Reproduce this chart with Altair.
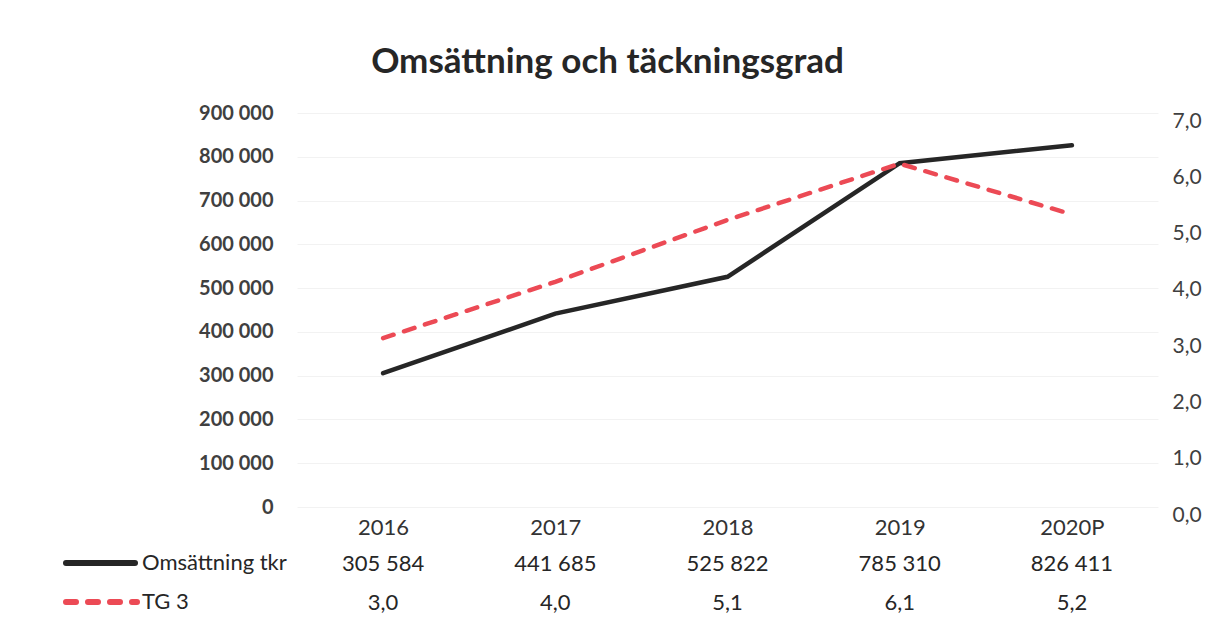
import altair as alt
import pandas as pd

years = ["2016", "2017", "2018", "2019", "2020P"]
omsattning = [305584, 441685, 525822, 785310, 826411]
tg = [3.0, 4.0, 5.1, 6.1, 5.2]
series = ["Omsättning tkr", "TG 3"]

W, H = 861, 394
FONT = "Lato"
TFS = 22

df = pd.DataFrame({"year": years, "oms": omsattning, "tg": tg})

x = alt.X("year:N", sort=years, scale=alt.Scale(paddingInner=0, paddingOuter=0),
          axis=alt.Axis(title=None, domain=False, ticks=False, labelAngle=0,
                        labelFontSize=TFS, labelFont=FONT, labelColor="#333333",
                        labelPadding=20, labelBaseline="middle", grid=False))

base = alt.Chart(df)

oms_line = base.mark_line(color="#262626", strokeWidth=4.5, strokeCap="round").encode(
    x=x,
    y=alt.Y("oms:Q", scale=alt.Scale(domain=[0, 900000]),
            axis=alt.Axis(title=None, orient="left", values=list(range(0, 900001, 100000)),
                          labelExpr="replace(format(datum.value, ','), ',', ' ')",
                          labelFont=FONT, labelFontSize=20, labelFontWeight="bold",
                          labelColor="#404040", labelPadding=24, domain=False, ticks=False,
                          grid=True, gridColor="#f2f2f2", gridWidth=1)),
)

tg_line = base.mark_line(color="#ec4a55", strokeWidth=4.5, strokeDash=[11, 11],
                         strokeCap="round").encode(
    x=alt.X("year:N", sort=years),
    y=alt.Y("tg:Q", scale=alt.Scale(domain=[0, 7]),
            axis=alt.Axis(title=None, orient="right", values=list(range(0, 8)),
                          labelExpr="replace(format(datum.value, '.1f'), '.', ',')",
                          labelFont=FONT, labelFontSize=21, labelColor="#404040",
                          labelPadding=14, labelOffset=8, domain=False, ticks=False,
                          grid=False)),
)

row1 = base.transform_calculate(
    lab="replace(format(datum.oms, ','), ',', ' ')"
).mark_text(font=FONT, fontSize=TFS, color="#262626", baseline="middle").encode(
    x=alt.X("year:N", sort=years), y=alt.value(H + 57), text="lab:N")

row2 = base.transform_calculate(
    lab="replace(format(datum.tg, '.1f'), '.', ',')"
).mark_text(font=FONT, fontSize=TFS, color="#262626", baseline="middle").encode(
    x=alt.X("year:N", sort=years), y=alt.value(H + 96), text="lab:N")

hdr1 = alt.Chart(pd.DataFrame({"s": [series[0]]})).mark_text(
    font=FONT, fontSize=TFS, color="#262626", align="left", baseline="middle").encode(
    x=alt.value(-155), y=alt.value(H + 56), text="s:N")
hdr2 = alt.Chart(pd.DataFrame({"s": [series[1]]})).mark_text(
    font=FONT, fontSize=TFS, color="#262626", align="left", baseline="middle").encode(
    x=alt.value(-155), y=alt.value(H + 95), text="s:N")

key1 = alt.Chart(pd.DataFrame({"s": [series[0]]})).mark_rule(
    color="#262626", strokeWidth=6, strokeCap="round").encode(
    x=alt.value(-231), x2=alt.value(-162), y=alt.value(H + 56))
key2 = alt.Chart(pd.DataFrame({"s": [series[1]]})).mark_rule(
    color="#ec4a55", strokeWidth=6, strokeCap="round", strokeDash=[10, 12]).encode(
    x=alt.value(-231), x2=alt.value(-160), y=alt.value(H + 95))

chart = alt.layer(oms_line, tg_line, row1, row2, hdr1, hdr2, key1, key2).resolve_scale(
    y="independent"
).properties(
    width=W, height=H,
    title=alt.TitleParams("Omsättning och täckningsgrad", font=FONT, fontSize=35,
                          fontWeight="bold", color="#262626", anchor="middle",
                          dx=-120, offset=-5, baseline="alphabetic"),
    autosize=alt.AutoSizeParams(type="none"),
    padding={"left": 289, "top": 105, "right": 50, "bottom": 110},
).configure(background="white", view=alt.ViewConfig(stroke=None))

chart.save("out.html", embed_options={"renderer": "svg", "actions": False})
